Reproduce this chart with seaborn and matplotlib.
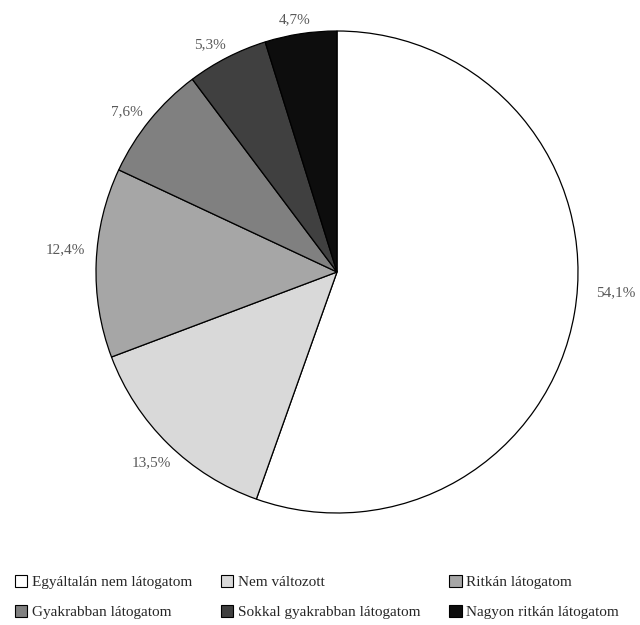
import numpy as np
import matplotlib
matplotlib.use("Agg")
import matplotlib.pyplot as plt
import seaborn as sns
from matplotlib.patches import Patch

categories = ["Egyáltalán nem látogatom", "Nem változott", "Ritkán látogatom",
              "Gyakrabban látogatom", "Sokkal gyakrabban látogatom", "Nagyon ritkán látogatom"]
values = [54.1, 13.5, 12.4, 7.6, 5.3, 4.7]
labels = ["54,1%", "13,5%", "12,4%", "7,6%", "5,3%", "4,7%"]
colors = ["#ffffff", "#d9d9d9", "#a6a6a6", "#808080", "#404040", "#0d0d0d"]

# label placement tweaks (radius in pie units, angle nudge in degrees)
label_r = [1.16, 1.105, 1.13, 1.095, 1.08, 1.06]
label_dang = [5.5, 0.3, -2.5, 1.8, 2.1, 0.9]

sns.set_theme(style="white")
plt.rcParams['font.family'] = ['Liberation Serif', 'DejaVu Serif']

fig = plt.figure(figsize=(6.4, 6.25), dpi=100)
ax = fig.add_axes([96/640, 112/625, 482/640, 482/625])

wedges, _ = ax.pie(values, colors=colors, startangle=90, counterclock=False,
                   wedgeprops=dict(edgecolor="black", linewidth=0.9))
ax.set_xlim(-1, 1)
ax.set_ylim(-1, 1)
ax.set_aspect("equal")

for w, lab, r, da in zip(wedges, labels, label_r, label_dang):
    mid = np.deg2rad((w.theta1 + w.theta2) / 2 + da)
    ax.text(r * np.cos(mid), r * np.sin(mid), lab, ha="center", va="center",
            fontsize=11, color="#595959", clip_on=False)

order = [0, 3, 1, 4, 2, 5]
handles = [Patch(facecolor=colors[i], edgecolor="black", linewidth=0.8) for i in order]
leg_labels = [categories[i] for i in order]
fig.legend(handles, leg_labels, loc="lower left", bbox_to_anchor=(0.002, -0.013),
           ncol=3, frameon=False, fontsize=11, handlelength=0.8, handleheight=0.8,
           handletextpad=0.3, columnspacing=1.9, labelspacing=1.05,
           labelcolor="#262626")

fig.savefig("out.png", dpi=100)
